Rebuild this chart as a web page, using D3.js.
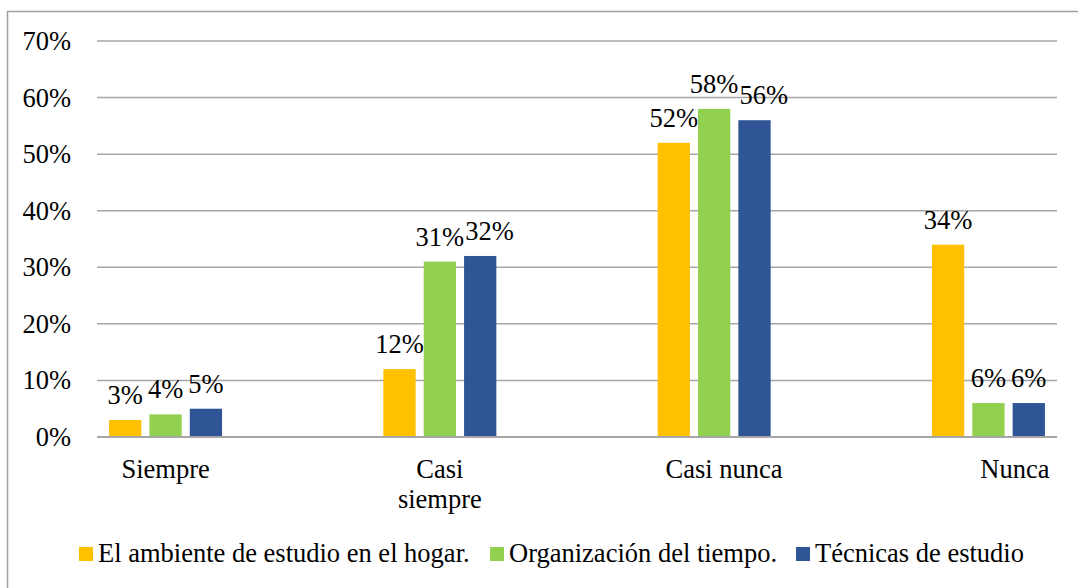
<!DOCTYPE html>
<html><head><meta charset="utf-8">
<script src="https://cdn.jsdelivr.net/npm/d3@7"></script>
<style>body{margin:0;background:#fff}svg{display:block}svg text{font-family:"Times New Roman","Liberation Serif",Tinos,serif !important}</style>
</head><body><svg id="c" width="1078" height="588" font-family="Times New Roman"></svg>
<script>
const categories = [["Siempre"], ["Casi", "siempre"], ["\u00a0\u00a0\u00a0Casi nunca"], ["\u00a0\u00a0\u00a0\u00a0\u00a0\u00a0\u00a0\u00a0Nunca"]];
const seriesNames = ["El ambiente de estudio en el hogar.", "Organización del tiempo.", "Técnicas de estudio"];
const ambiente = [3, 12, 52, 34];
const organizacion = [4, 31, 58, 6];
const tecnicas = [5, 32, 56, 6];
const yTicks = [0, 10, 20, 30, 40, 50, 60, 70];
const colors = ["#FFC000", "#92D050", "#2F5597"];
const series = [ambiente, organizacion, tecnicas];

(function () {
const FONT = "Times New Roman";
const FS = 26.5;
const svg = d3.select("#c");
svg.append("rect").attr("x", 7.5).attr("y", 11.5).attr("width", 1200).attr("height", 700)
  .attr("fill", "none").attr("stroke", "#a0a0a0").attr("stroke-width", 1.5);

const pL = 97, pR = 1057, pT = 41, pB = 437;
const y = d3.scaleLinear().domain([0, 70]).range([pB, pT]);
const x = d3.scalePoint().domain(d3.range(categories.length)).range([pL, pR]).padding(0.25);
const xs = d3.scaleBand().domain(d3.range(series.length)).range([-56.5, 56.5]).paddingInner(0.2);

svg.append("g").selectAll("line").data(yTicks.filter(t => t > 0)).join("line")
  .attr("x1", pL).attr("x2", pR).attr("y1", d => y(d)).attr("y2", d => y(d))
  .attr("stroke", "#a6a6a6").attr("stroke-width", 1.5);

const ya = d3.axisLeft(y).tickValues(yTicks).tickFormat(d => d + "%").tickSize(0).tickPadding(26);
const yg = svg.append("g").attr("transform", `translate(${pL},0)`).call(ya);
yg.attr("font-family", null).attr("font-size", null);
yg.select(".domain").remove();

const labelSel = [];
series.forEach((vals, s) => {
  const g = svg.append("g");
  g.selectAll("rect").data(vals).join("rect")
    .attr("x", (d, i) => x(i) + xs(s)).attr("width", xs.bandwidth())
    .attr("y", d => y(d)).attr("height", d => pB - y(d)).attr("fill", colors[s]);
  labelSel.push(g.selectAll("text").data(vals).join("text")
    .attr("class", "dl")
    .attr("x", (d, i) => x(i) + xs(s) + xs.bandwidth() / 2).attr("y", d => y(d) - 16)
    .attr("text-anchor", "middle").text(d => d + "%"));
});

svg.append("line").attr("x1", pL).attr("x2", pR).attr("y1", pB).attr("y2", pB)
  .attr("stroke", "#a6a6a6").attr("stroke-width", 2);

const cl = svg.append("g").selectAll("text").data(categories).join("text")
  .attr("x", (d, i) => x(i)).attr("y", 478).attr("text-anchor", "middle");
cl.each(function(lines) {
  const t = d3.select(this);
  lines.forEach((l, k) => t.append("tspan").attr("x", t.attr("x")).attr("dy", k === 0 ? 0 : 30).text(l));
});

const legX = [79, 490, 796];
const lg = svg.append("g").selectAll("g").data(seriesNames).join("g")
  .attr("transform", (d, i) => `translate(${legX[i]},547)`);
lg.append("rect").attr("width", 14).attr("height", 14).attr("fill", (d, i) => colors[i]);
lg.append("text").attr("x", 19).attr("y", 15).text(d => d);

svg.selectAll("text").attr("font-family", FONT).attr("font-size", FS).attr("fill", "#000")
  .style("font-family", "'Times New Roman', 'Liberation Serif', serif");

// nudge data labels within a group so neighbouring labels don't collide
categories.forEach((c, i) => {
  let prev = null;
  labelSel.forEach(sel => {
    const node = sel.nodes()[i];
    const b = node.getBBox();
    if (prev) {
      const vOverlap = b.y < prev.y + prev.height - 6 && prev.y < b.y + b.height - 6;
      const hOverlap = prev.x + prev.width + 1 - b.x;
      if (vOverlap && hOverlap > 0) {
        node.setAttribute("x", +node.getAttribute("x") + hOverlap);
      }
    }
    prev = node.getBBox();
  });
});
})();
</script></body></html>
